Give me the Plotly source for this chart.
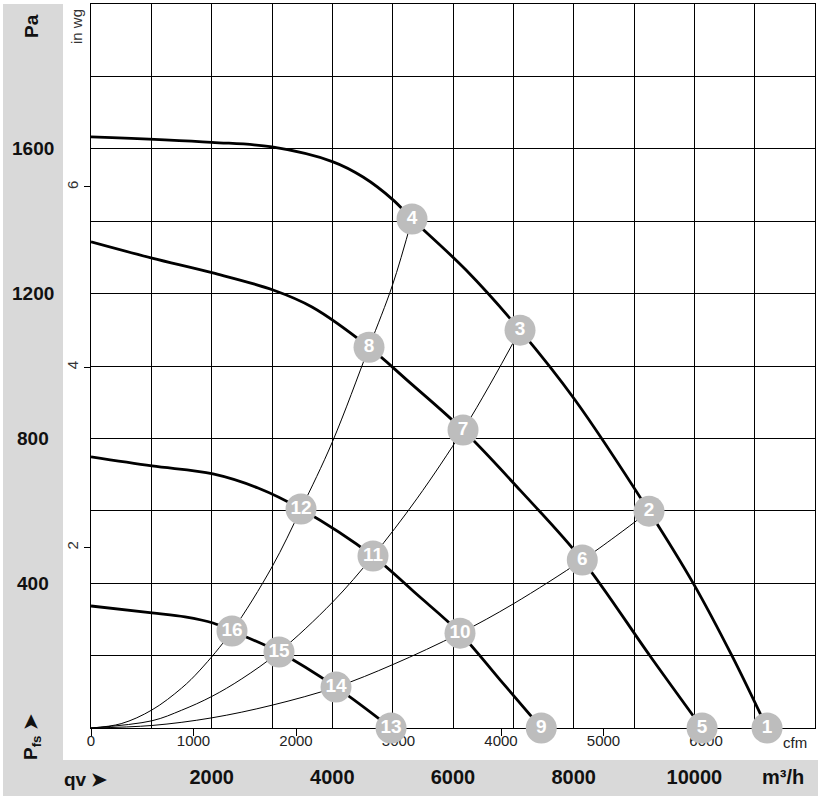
import plotly.graph_objects as go

# ---------------- data ----------------
# Fan characteristic curves: flow rate qv [m³/h], static pressure pfs [Pa]
curve1_q = [0, 2000, 3000, 4011, 4509, 5006, 5321, 6216, 7111, 8023, 9249, 9978, 10625, 11205]
curve1_p = [1633, 1618, 1605, 1564, 1522, 1459, 1406, 1265, 1099, 906, 599, 401, 199, 0]

curve2_q = [0, 1011, 2022, 3017, 3663, 4608, 5238, 6166, 7111, 8143, 9266, 10128]
curve2_p = [1343, 1298, 1257, 1210, 1163, 1052, 961, 823, 657, 464, 199, 0]

curve3_q = [0, 1011, 2022, 2768, 3481, 4674, 5395, 6116, 6780, 7463]
curve3_p = [749, 724, 702, 663, 605, 475, 370, 262, 133, 0]

curve4_q = [0, 1011, 1558, 2022, 2337, 3116, 4061, 4973]
curve4_p = [337, 318, 307, 290, 268, 210, 113, 0]

# System (resistance) curves through the origin
sys1_q = [0, 500, 1011, 1500, 1807, 2337, 3000, 3481, 4000, 4608, 5000, 5321]
sys1_p = [0, 12, 50, 110, 160, 268, 445, 605, 790, 1052, 1225, 1406]

sys2_q = [0, 1011, 1500, 2000, 2500, 3116, 4000, 4674, 5400, 6166, 6600, 7111]
sys2_p = [0, 20, 49, 87, 136, 210, 347, 475, 633, 823, 945, 1099]

sys3_q = [0, 1011, 2000, 3000, 4061, 5000, 6116, 7000, 8143, 8700, 9249]
sys3_p = [0, 7, 28, 63, 113, 175, 262, 343, 464, 530, 599]

# Numbered operating points
point_labels = ["1", "2", "3", "4", "5", "6", "7", "8", "9", "10", "11", "12", "13", "14", "15", "16"]
point_q = [11205, 9249, 7111, 5321, 10128, 8143, 6166, 4608, 7463, 6116, 4674, 3481, 4973, 4061, 3116, 2337]
point_p = [0, 599, 1099, 1406, 0, 464, 823, 1052, 0, 262, 475, 605, 0, 113, 210, 268]

# Axis ticks
qv_ticks = list(range(0, 12001, 1000))
qv_labels = ["", "", "2000", "", "4000", "", "6000", "", "8000", "", "10000", "", ""]
pa_ticks = list(range(0, 2001, 200))
pa_labels = [400, 800, 1200, 1600]
cfm_ticks = [0, 1000, 2000, 3000, 4000, 5000, 6000]
inwg_ticks = [2, 4, 6]

# unit conversions
M3H_PER_CFM = 1.69901
PA_PER_INWG = 249.089
QV_MAX, PA_MAX = 12000, 2000

# ---------------- layout geometry ----------------
W, H = 822, 804
L, R, T, B = 91, 7, 4, 76
PW, PH = W - L - R, H - T - B


def px(x):
    return (x - L) / PW


def py(y):
    return (H - B - y) / PH


FONT = "Liberation Sans, Arial, Helvetica, sans-serif"
BAND = "#d9d9d9"
MARK = "#bdbdbd"

fig = go.Figure()

for q, p in [(sys1_q, sys1_p), (sys2_q, sys2_p), (sys3_q, sys3_p)]:
    fig.add_trace(go.Scatter(x=q, y=p, mode="lines", cliponaxis=False, hoverinfo="skip",
                             line=dict(color="black", width=1, shape="spline", smoothing=1),
                             showlegend=False))

for q, p in [(curve1_q, curve1_p), (curve2_q, curve2_p), (curve3_q, curve3_p), (curve4_q, curve4_p)]:
    fig.add_trace(go.Scatter(x=q, y=p, mode="lines", cliponaxis=False, hoverinfo="skip",
                             line=dict(color="black", width=2.8, shape="spline", smoothing=1),
                             showlegend=False))

fig.add_trace(go.Scatter(x=point_q, y=point_p, mode="markers+text", text=point_labels,
                         textposition="middle center", cliponaxis=False, hoverinfo="skip",
                         marker=dict(size=31, color=MARK, line=dict(width=0)),
                         textfont=dict(family=FONT, size=19, color="white", weight="bold"),
                         showlegend=False))

# invisible trace that carries the secondary (cfm / in wg) axes
fig.add_trace(go.Scatter(x=[0], y=[0], xaxis="x2", yaxis="y2", mode="markers",
                         marker=dict(size=1, opacity=0), showlegend=False, hoverinfo="skip"))

annotations = []
for v in pa_labels:
    annotations.append(dict(x=px(33), xref="paper", y=v, yref="y", text=str(v), showarrow=False,
                            xanchor="center", yanchor="middle",
                            font=dict(family=FONT, size=19, color="#111", weight="bold")))
annotations += [
    dict(x=px(32), y=py(26), xref="paper", yref="paper", text="Pa", textangle=-90, showarrow=False,
         xanchor="center", yanchor="middle", font=dict(family=FONT, size=19, color="#111", weight="bold")),
    dict(x=px(77), y=py(27), xref="paper", yref="paper", text="in wg", textangle=-90, showarrow=False,
         xanchor="center", yanchor="middle", font=dict(family=FONT, size=15, color="#333")),
    dict(x=px(32), y=py(737), xref="paper", yref="paper", text="P<sub>fs</sub> ➤", textangle=-90,
         showarrow=False, xanchor="center", yanchor="middle",
         font=dict(family=FONT, size=19, color="#111", weight="bold")),
    dict(x=px(85), y=py(779), xref="paper", yref="paper", text="qv ➤", showarrow=False,
         xanchor="center", yanchor="middle", font=dict(family=FONT, size=19, color="#111", weight="bold")),
    dict(x=px(783), y=py(777), xref="paper", yref="paper", text="m³/h", showarrow=False,
         xanchor="center", yanchor="middle", font=dict(family=FONT, size=20, color="#111", weight="bold")),
    dict(x=px(795), y=py(742), xref="paper", yref="paper", text="cfm", showarrow=False,
         xanchor="center", yanchor="middle", font=dict(family=FONT, size=15, color="#222")),
]

shapes = [
    dict(type="rect", xref="paper", yref="paper", x0=px(3), x1=px(63), y0=py(796), y1=py(4),
         fillcolor=BAND, line=dict(width=0), layer="below"),
    dict(type="rect", xref="paper", yref="paper", x0=px(3), x1=px(818), y0=py(796), y1=py(760),
         fillcolor=BAND, line=dict(width=0), layer="below"),
]

fig.update_layout(
    width=W, height=H,
    margin=dict(l=L, r=R, t=T, b=B, autoexpand=False),
    paper_bgcolor="white", plot_bgcolor="white",
    showlegend=False,
    font=dict(family=FONT),
    xaxis=dict(range=[0, QV_MAX], tickmode="array", tickvals=qv_ticks, ticktext=qv_labels,
               showgrid=True, gridcolor="black", gridwidth=1, zeroline=False,
               showline=True, mirror=True, linecolor="black", linewidth=1,
               ticks="", ticklabelstandoff=31, automargin=False, layer="below traces",
               tickfont=dict(family=FONT, size=20, color="#111", weight="bold")),
    yaxis=dict(range=[0, PA_MAX], tickmode="array", tickvals=pa_ticks, showticklabels=False,
               showgrid=True, gridcolor="black", gridwidth=1, zeroline=False,
               showline=True, mirror=True, linecolor="black", linewidth=1,
               ticks="", automargin=False, layer="below traces"),
    xaxis2=dict(overlaying="x", anchor="y2", side="bottom", range=[0, QV_MAX / M3H_PER_CFM],
                tickmode="array", tickvals=cfm_ticks, showgrid=False, zeroline=False, showline=False,
                ticks="outside", ticklen=7, tickcolor="black", tickwidth=1, automargin=False,
                ticklabelstandoff=-8,
                layer="below traces", tickfont=dict(family=FONT, size=15, color="#222")),
    yaxis2=dict(overlaying="y", anchor="x2", side="left", range=[0, PA_MAX / PA_PER_INWG],
                tickmode="array", tickvals=inwg_ticks, showgrid=False, zeroline=False, showline=False,
                ticks="outside", ticklen=6, tickcolor="black", tickwidth=1, tickangle=-90,
                automargin=False, layer="below traces",
                tickfont=dict(family=FONT, size=15, color="#333")),
    annotations=annotations,
    shapes=shapes,
)

fig.write_html("out.html")
